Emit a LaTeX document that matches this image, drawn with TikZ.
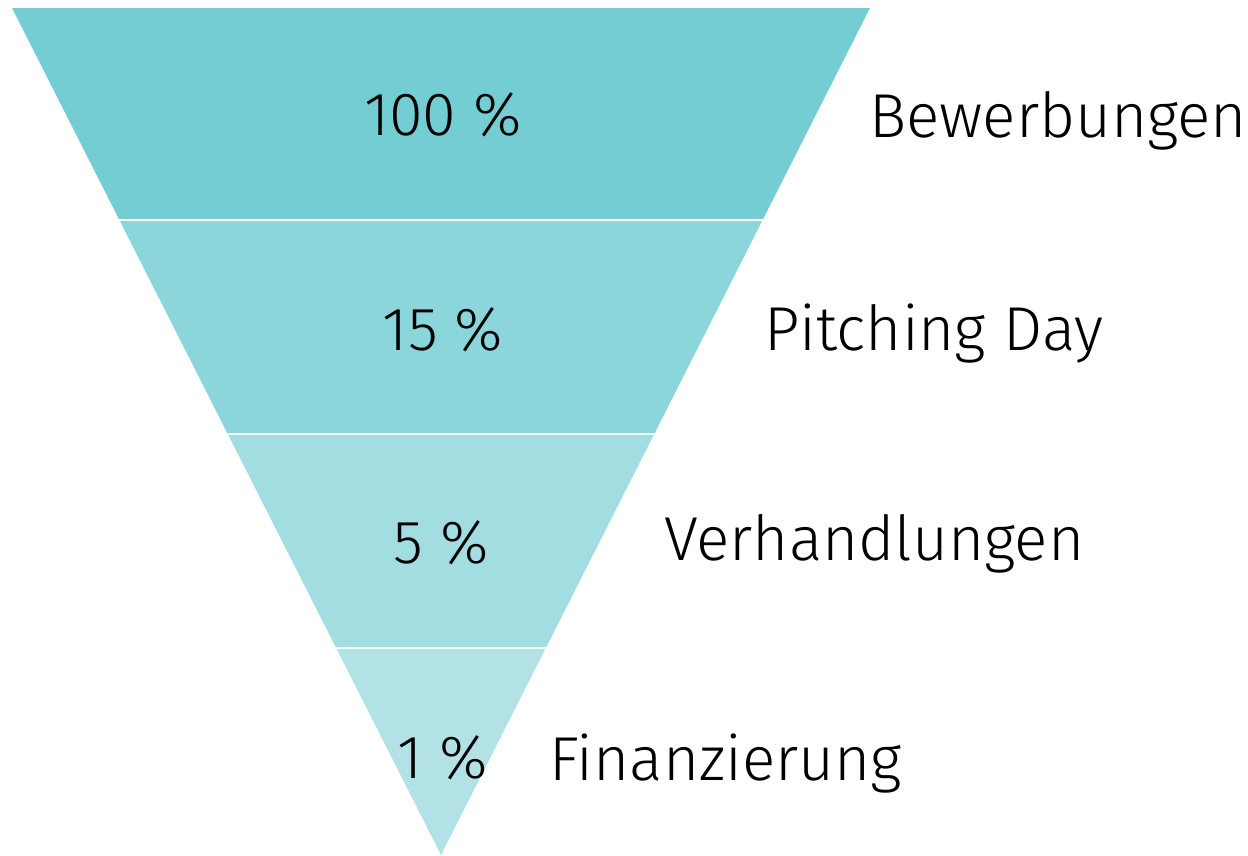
\documentclass[tikz,border=0pt]{standalone}
\usepackage{fontspec}
\usetikzlibrary{calc}
\setmainfont{Fira Sans}[UprightFont=* Light]
\definecolor{c1}{HTML}{74CDD3}
\definecolor{c2}{HTML}{8AD6DA}
\definecolor{c3}{HTML}{A2DDE2}
\definecolor{c4}{HTML}{B2E2E6}
\begin{document}
\begin{tikzpicture}[x=1pt,y=-1pt,
  pct/.style={anchor=base,inner sep=0pt,font=\fontsize{61}{72}\selectfont},
  lbl/.style={anchor=base west,inner sep=0pt,font=\fontsize{62}{72}\selectfont}]
\useasboundingbox (0,0) rectangle (1248,855);
\coordinate (TL) at (12,8);
\coordinate (TR) at (870,8);
\coordinate (A) at (441,855);
\coordinate (L1) at ($(TL)!0.2503!(A)$);
\coordinate (L2) at ($(TL)!0.5030!(A)$);
\coordinate (L3) at ($(TL)!0.7556!(A)$);
\coordinate (R1) at ($(TR)!0.2503!(A)$);
\coordinate (R2) at ($(TR)!0.5030!(A)$);
\coordinate (R3) at ($(TR)!0.7556!(A)$);
\fill[c1] (TL) -- (TR) -- (R1) -- (L1) -- cycle;
\fill[c2] (L1) -- (R1) -- (R2) -- (L2) -- cycle;
\fill[c3] (L2) -- (R2) -- (R3) -- (L3) -- cycle;
\fill[c4] (L3) -- (R3) -- (A) -- cycle;
\draw[white,line width=2.5pt] (L1) -- (R1) (L2) -- (R2) (L3) -- (R3);
\node[pct] (p1) at (443,135) {100 \%};
\node[pct] (p2) at (443,350) {15 \%};
\node[pct] (p3) at (441,563) {5 \%};
\node[pct] (p4) at (443,778) {1 \%};
\node[lbl] (b1) at (869,137) {Bewerbungen};
\node[lbl] (b2) at (764,350) {Pitching Day};
\node[lbl] (b3) at (664,560) {Verhandlungen};
\node[lbl] (b4) at (549,780) {Finanzierung};
\end{tikzpicture}
\end{document}
